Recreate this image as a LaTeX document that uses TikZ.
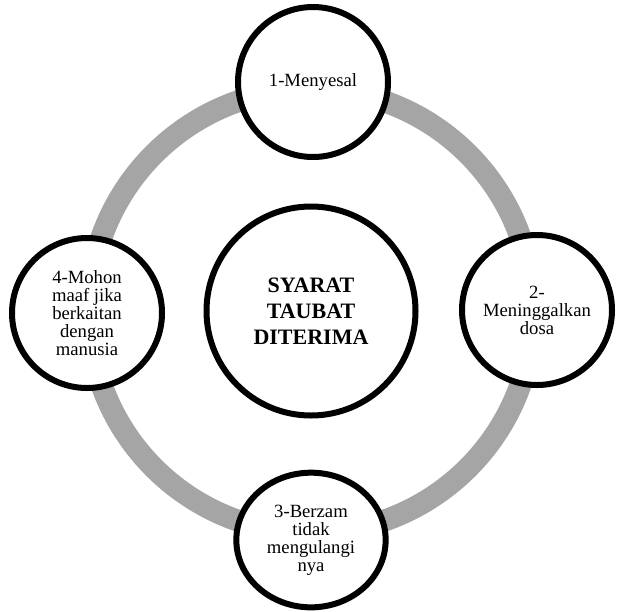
\documentclass[tikz,border=0pt]{standalone}
\usepackage{fontspec}
\setmainfont{Liberation Serif}
\usetikzlibrary{shapes.geometric}
\definecolor{ringgray}{HTML}{A5A5A5}

\begin{document}
\begin{tikzpicture}[x=0.75pt, y=-0.75pt,
    syarat/.style={circle, draw, line width=4.5pt, fill=white, inner sep=0pt, minimum size=112.5pt, align=center, font=\fontsize{14}{13.5}\selectfont}]
            \useasboundingbox (0,0) rectangle (617,611);

            % Define center node
            \node[circle, draw, line width=4.5pt, inner sep=0pt, minimum size=156.75pt, align=center, font=\bfseries\fontsize{16.5}{19.5}\selectfont] (T) at (311,311) {SYARAT\\TAUBAT\\DITERIMA};

            % Draw ring
            \draw[line width=16.5pt, ringgray] (T.center) circle[radius=166.5pt];

            % Define steps on the ring
            \node[syarat] (S1) at (313,82) {1-Menyesal};
            \node[syarat] (S2) at (537,310) {2-\\Meninggalkan\\dosa};
            \node[syarat, ellipse, minimum width=112pt, minimum height=101pt] (S3) at (311,540) {3-Berzam\\tidak\\mengulangi\\nya};
            \node[syarat] (S4) at (87,313) {4-Mohon\\maaf jika\\berkaitan\\dengan\\manusia};
        \end{tikzpicture}
\end{document}
